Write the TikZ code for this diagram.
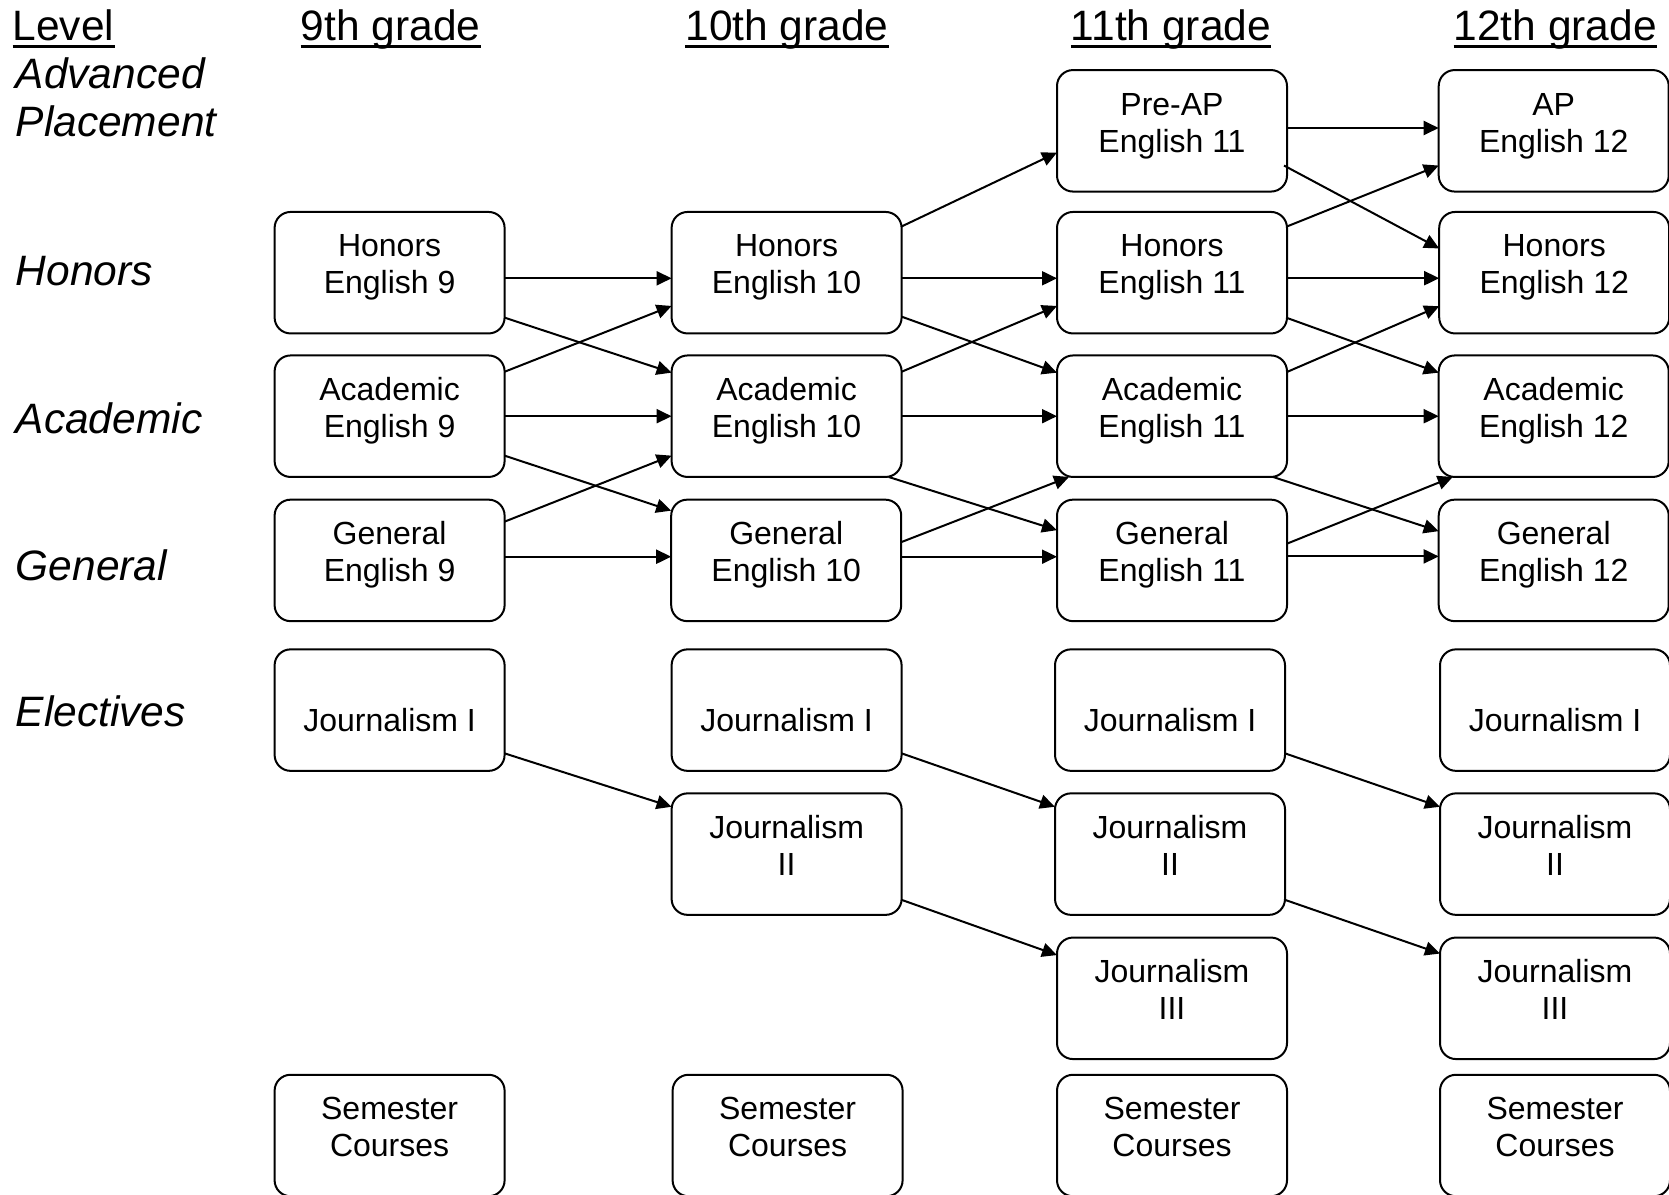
\documentclass[tikz,border=0pt]{standalone}
\usepackage{fontspec}
\setmainfont{Liberation Sans}
\usetikzlibrary{arrows.meta}
\newcommand{\bx}[1]{\raisebox{4.7pt}[\height][\depth]{\begin{tabular}{@{}c@{}}#1\end{tabular}}}
\tikzset{
  box/.style={draw, line width=2pt, rounded corners=16pt, minimum width=230pt,
    minimum height=121.5pt, inner sep=0pt, outer sep=0pt,
    font=\fontsize{32}{37}\selectfont},
  arr/.style={line width=2pt, -{Triangle[length=15pt,width=14pt]}},
  hdr/.style={font=\fontsize{42.5}{48.9}\selectfont, inner sep=0pt, anchor=base},
  lvllab/.style={font=\fontsize{42.5}{48.4}\selectfont\itshape, inner sep=0pt, anchor=base west},
  uline/.style={line width=3.2pt}
}
\begin{document}
\begin{tikzpicture}[x=1pt,y=-1pt]
\useasboundingbox (0,0) rectangle (1669,1194);
\clip (0,0) rectangle (1669,1194);

% headers
\node[hdr, anchor=base west] (lev) at (12.5,40) {Level};
\node[hdr] (g9h) at (390.6,40) {9th grade};
\node[hdr] (g10h) at (787,40) {10th grade};
\node[hdr] (g11h) at (1171,40) {11th grade};
\node[hdr] (g12h) at (1555.3,40) {12th grade};
\foreach \n in {lev,g9h,g10h,g11h,g12h}
  \draw[uline] ([yshift=-6.5pt]\n.base west) -- ([yshift=-6.5pt]\n.base east);

% level labels
\node[lvllab] (lap) at (15.5,88.3) {\begin{tabular}[t]{@{}l@{}}Advanced\\Placement\end{tabular}};
\node[lvllab] (lhon) at (15.5,285) {Honors};
\node[lvllab] (laca) at (15.5,433.3) {Academic};
\node[lvllab] (lgen) at (15.5,580) {General};
\node[lvllab] (lele) at (15.5,726.7) {Electives};

% column 1
\node[box] (h9) at (389.6,272.7) {\bx{Honors\\English 9}};
\node[box] (a9) at (389.6,416.2) {\bx{Academic\\English 9}};
\node[box] (g9) at (389.6,560.4) {\bx{General\\English 9}};
\node[box] (ja9) at (389.6,710.1) {\bx{\\Journalism I}};
\node[box] (sem9) at (389.6,1135.5) {\bx{Semester\\Courses}};

% column 2
\node[box] (h10) at (786.6,272.7) {\bx{Honors\\English 10}};
\node[box] (a10) at (786.6,416.2) {\bx{Academic\\English 10}};
\node[box] (g10) at (786.2,560.4) {\bx{General\\English 10}};
\node[box] (ja10) at (786.6,710.1) {\bx{\\Journalism I}};
\node[box] (jb10) at (786.6,854.1) {\bx{Journalism\\II}};
\node[box] (sem10) at (787.6,1135.5) {\bx{Semester\\Courses}};

% column 3
\node[box] (p11) at (1172,130.8) {\bx{Pre-AP\\English 11}};
\node[box] (h11) at (1172,272.7) {\bx{Honors\\English 11}};
\node[box] (a11) at (1172,416.2) {\bx{Academic\\English 11}};
\node[box] (g11) at (1172,560.4) {\bx{General\\English 11}};
\node[box] (ja11) at (1170,710.1) {\bx{\\Journalism I}};
\node[box] (jb11) at (1170,854.1) {\bx{Journalism\\II}};
\node[box] (jc11) at (1172,998.3) {\bx{Journalism\\III}};
\node[box] (sem11) at (1172,1135.5) {\bx{Semester\\Courses}};

% column 4
\node[box] (ap12) at (1553.7,130.8) {\bx{AP\\English 12}};
\node[box] (h12) at (1554.2,272.7) {\bx{Honors\\English 12}};
\node[box] (a12) at (1553.7,416.2) {\bx{Academic\\English 12}};
\node[box] (g12) at (1553.7,560.4) {\bx{General\\English 12}};
\node[box] (ja12) at (1555,710.1) {\bx{\\Journalism I}};
\node[box] (jb12) at (1555,854.1) {\bx{Journalism\\II}};
\node[box] (jc12) at (1555,998.3) {\bx{Journalism\\III}};
\node[box] (sem12) at (1555,1135.5) {\bx{Semester\\Courses}};

% 9 -> 10
\draw[arr] ([yshift=-5.6pt]h9.east) -- ([yshift=-5.6pt]h10.west);
\draw[arr] ([yshift=15.8pt]h9.south east) -- ([yshift=-17.2pt]a10.north west);
\draw[arr] ([yshift=-16.3pt]a9.north east) -- ([yshift=27.5pt]h10.south west);
\draw[arr] (a9.east) -- (a10.west);
\draw[arr] ([yshift=21.3pt]a9.south east) -- ([yshift=-11pt]g10.north west);
\draw[arr] ([yshift=-22pt]g9.north east) -- ([yshift=21.3pt]a10.south west);
\draw[arr] ([yshift=3.7pt]g9.east) -- ([yshift=3.7pt]g10.west);

% 10 -> 11
\draw[arr] ([yshift=-14.5pt]h10.north east) -- ([yshift=39pt]p11.south west);
\draw[arr] ([yshift=-5.6pt]h10.east) -- ([yshift=-5.6pt]h11.west);
\draw[arr] ([yshift=16.8pt]h10.south east) -- ([yshift=-17.2pt]a11.north west);
\draw[arr] ([yshift=-16.3pt]a10.north east) -- ([yshift=27.5pt]h11.south west);
\draw[arr] (a10.east) -- (a11.west);
\draw[arr] ([xshift=-13pt]a10.south east) -- ([yshift=-30.5pt]g11.north west);
\draw[arr] ([yshift=-42.5pt]g10.north east) -- ([xshift=12pt]a11.south west);
\draw[arr] ([yshift=3.7pt]g10.east) -- ([yshift=3.7pt]g11.west);

% 11 -> 12
\draw[arr] ([yshift=2.8pt]p11.east) -- ([yshift=2.8pt]ap12.west);
\draw[arr] ([xshift=-3pt,yshift=26pt]p11.south east) -- ([yshift=-36.5pt]h12.north west);
\draw[arr] ([yshift=-14.5pt]h11.north east) -- ([yshift=26pt]ap12.south west);
\draw[arr] ([yshift=-5.5pt]h11.east) -- ([yshift=-5.5pt]h12.west);
\draw[arr] ([yshift=15.5pt]h11.south east) -- ([yshift=-17.2pt]a12.north west);
\draw[arr] ([yshift=-16.5pt]a11.north east) -- ([yshift=27.2pt]h12.south west);
\draw[arr] (a11.east) -- (a12.west);
\draw[arr] ([xshift=-14pt]a11.south east) -- ([yshift=-31.5pt]g12.north west);
\draw[arr] ([yshift=-44pt]g11.north east) -- ([xshift=14pt]a12.south west);
\draw[arr] ([yshift=4pt]g11.east) -- ([yshift=4pt]g12.west);

% journalism
\draw[arr] ([yshift=17.5pt]ja9.south east) -- ([yshift=-13.4pt]jb10.north west);
\draw[arr] ([yshift=17.5pt]ja10.south east) -- ([yshift=-13.4pt]jb11.north west);
\draw[arr] ([yshift=17.5pt]ja11.south east) -- ([yshift=-13.4pt]jb12.north west);
\draw[arr] ([yshift=15pt]jb10.south east) -- ([yshift=-17.5pt]jc11.north west);
\draw[arr] ([yshift=15pt]jb11.south east) -- ([yshift=-16pt]jc12.north west);
\end{tikzpicture}
\end{document}
